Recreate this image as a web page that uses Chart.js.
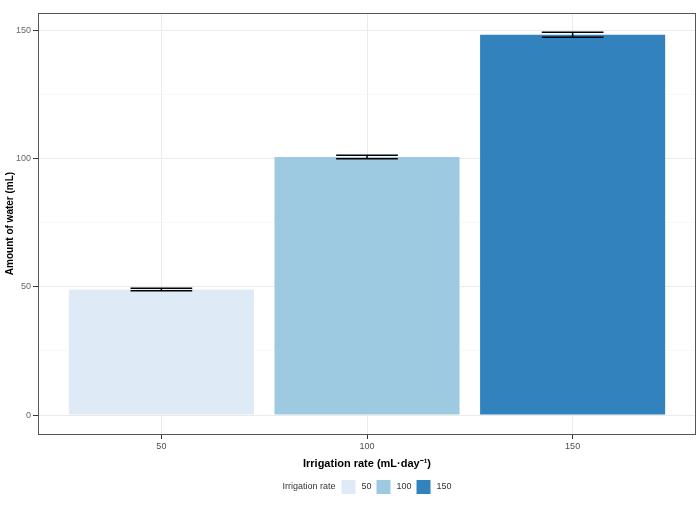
<!DOCTYPE html>
<html>
<head>
<meta charset="utf-8">
<script src="https://cdn.jsdelivr.net/npm/chart.js@4.4.0/dist/chart.umd.min.js"></script>
<style>
  html, body { margin: 0; padding: 0; background: #fff; }
</style>
</head>
<body>
<canvas id="chart" width="697" height="511"></canvas>
<script>
const categories = ['50', '100', '150'];
const waterMeans = [49.0, 100.7, 148.4];
const waterErrors = [0.5, 0.7, 1.0];
const barColors = ['#deebf7', '#9ecae1', '#3182bd'];
const yMajorTicks = [0, 50, 100, 150];
const yMinorTicks = [25, 75, 125];
const legendTitle = 'Irrigation rate';

Chart.defaults.font.family = "'Liberation Sans', Arial, sans-serif";

// error bars drawn from the data arrays through the chart scales
const errorBars = {
  id: 'errorBars',
  afterDatasetsDraw(chart) {
    const { ctx, scales: { x, y } } = chart;
    ctx.save();
    ctx.strokeStyle = '#000';
    ctx.lineWidth = 1.5;
    waterMeans.forEach((m, i) => {
      const cx = x.getPixelForValue(i + 1);
      const half = x.getPixelForValue(i + 1.15) - cx;
      const top = y.getPixelForValue(m + waterErrors[i]);
      const bot = y.getPixelForValue(m - waterErrors[i]);
      ctx.beginPath();
      ctx.moveTo(cx - half, top); ctx.lineTo(cx + half, top);
      ctx.moveTo(cx - half, bot); ctx.lineTo(cx + half, bot);
      ctx.moveTo(cx, top); ctx.lineTo(cx, bot);
      ctx.stroke();
    });
    ctx.restore();
  }
};

// panel border + legend at the bottom
const panelAndLegend = {
  id: 'panelAndLegend',
  afterDraw(chart) {
    const { ctx, chartArea: a } = chart;
    ctx.save();
    ctx.strokeStyle = '#555';
    ctx.lineWidth = 1;
    ctx.strokeRect(a.left + 0.5, a.top + 0.5, a.right - a.left - 1, a.bottom - a.top);

    ctx.font = "9px 'Liberation Sans', Arial, sans-serif";
    ctx.fillStyle = '#333';
    ctx.textBaseline = 'middle';
    const box = 14, gapTitle = 6, gapBox = 6, gapItem = 5;
    let total = ctx.measureText(legendTitle).width + gapTitle;
    categories.forEach((c, i) => {
      total += box + gapBox + ctx.measureText(c).width + (i < categories.length - 1 ? gapItem : 0);
    });
    let px = (a.left + a.right) / 2 - total / 2;
    const cy = 487;
    ctx.fillText(legendTitle, px, cy);
    px += ctx.measureText(legendTitle).width + gapTitle;
    categories.forEach((c, i) => {
      ctx.fillStyle = barColors[i];
      ctx.fillRect(px, cy - box / 2, box, box);
      px += box + gapBox;
      ctx.fillStyle = '#333';
      ctx.fillText(c, px, cy);
      px += ctx.measureText(c).width + gapItem;
    });
    ctx.restore();
  }
};

new Chart(document.getElementById('chart'), {
  type: 'bar',
  data: {
    datasets: [{
      data: waterMeans.map((v, i) => ({ x: i + 1, y: v })),
      backgroundColor: barColors,
      borderWidth: 0,
      barPercentage: 0.9,
      categoryPercentage: 1
    }]
  },
  options: {
    responsive: false,
    animation: false,
    layout: { padding: { top: 13, right: 1, left: 0, bottom: 0 } },
    plugins: { legend: { display: false }, tooltip: { enabled: false } },
    scales: {
      x: {
        type: 'linear',
        min: 0.4,
        max: 3.6,
        offset: false,
        afterBuildTicks: (scale) => { scale.ticks = categories.map((c, i) => ({ value: i + 1 })); },
        afterFit: (scale) => { scale.height = 77; },
        border: { display: false },
        grid: { offset: false, color: '#ebebeb', lineWidth: 1, tickLength: 5, tickColor: '#333' },
        ticks: {
          callback: (v) => categories[v - 1],
          font: { size: 9 },
          color: '#4d4d4d',
          padding: 2,
          maxRotation: 0
        },
        title: {
          display: true,
          text: 'Irrigation rate (mL·day⁻¹)',
          font: { size: 11, weight: 'bold' },
          color: '#000',
          padding: { top: 3, bottom: 40 }
        }
      },
      y: {
        min: -7.4,
        max: 156.9,
        afterBuildTicks: (scale) => {
          scale.ticks = yMajorTicks.concat(yMinorTicks).sort((p, q) => p - q).map(v => ({ value: v }));
        },
        afterFit: (scale) => { scale.width = 38; },
        border: { display: false },
        grid: {
          color: (c) => (c.tick && c.tick.value % 50 ? '#f3f3f3' : '#ebebeb'),
          lineWidth: (c) => (c.tick && c.tick.value % 50 ? 0.6 : 1),
          tickLength: 5,
          tickColor: (c) => (c.tick && c.tick.value % 50 ? 'rgba(0,0,0,0)' : '#333')
        },
        ticks: {
          callback: (v) => (v % 50 === 0 ? String(v) : ''),
          font: { size: 9 },
          color: '#666',
          padding: 2
        },
        title: {
          display: true,
          text: 'Amount of water (mL)',
          font: { size: 10, weight: 'bold' },
          color: '#000',
          padding: { top: 4, bottom: 2 }
        }
      }
    }
  },
  plugins: [errorBars, panelAndLegend]
});
</script>
</body>
</html>
